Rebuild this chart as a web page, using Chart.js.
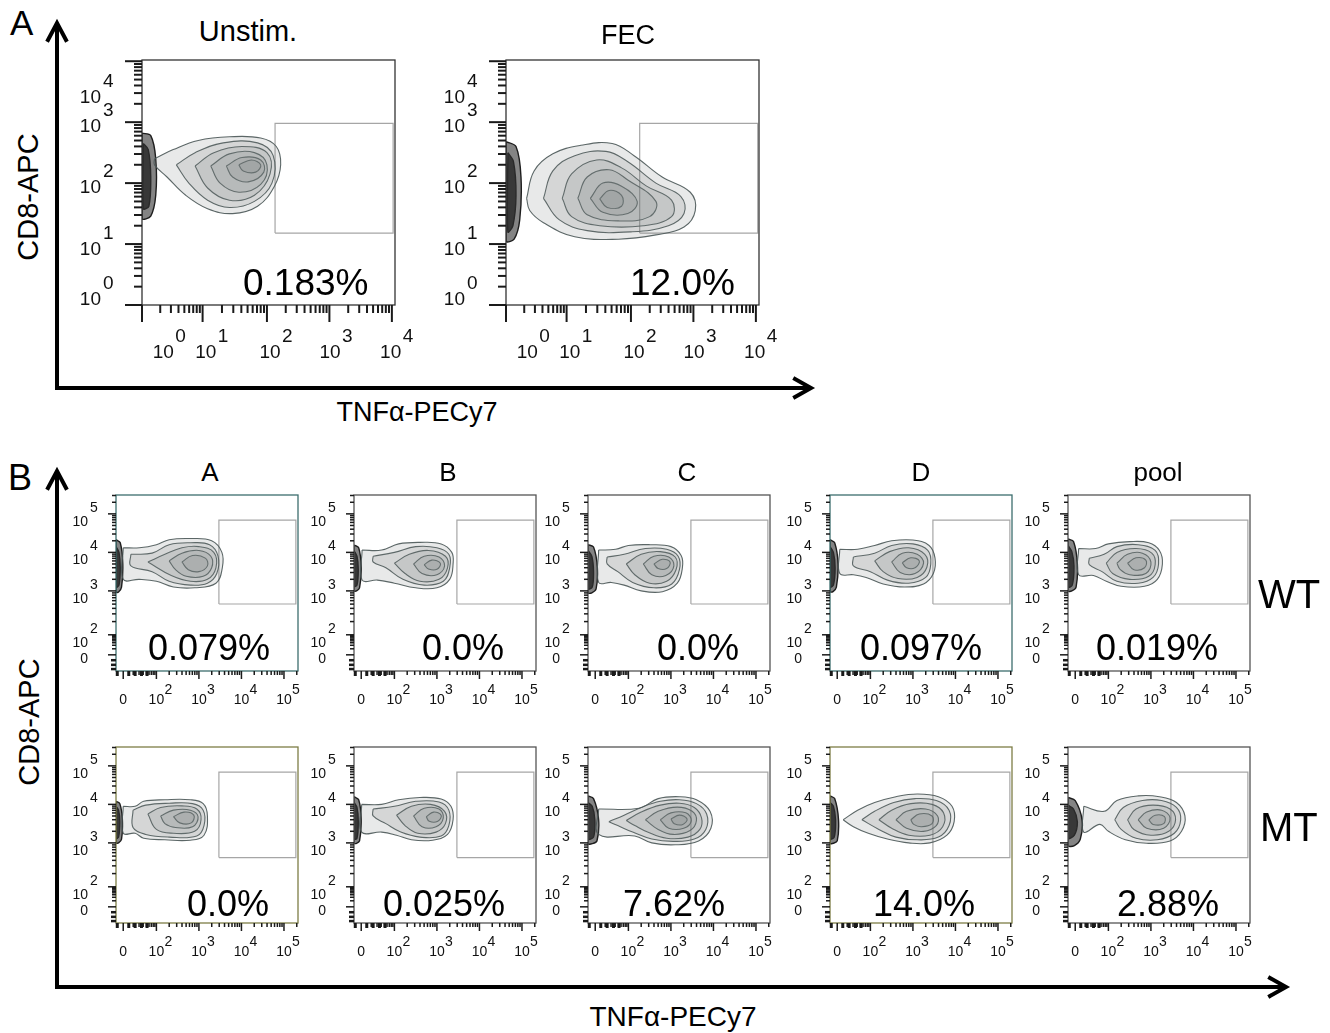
<!DOCTYPE html>
<html>
<head>
<meta charset="utf-8">
<script src="https://cdn.jsdelivr.net/npm/chart.js"></script>
<style>
body { margin: 0; background: #fff; }
#fig { position: relative; width: 1330px; height: 1033px; overflow: hidden; font-family: Arial, "Liberation Sans", sans-serif; color: #000; }
#fig canvas { position: absolute; }
.t { position: absolute; white-space: nowrap; line-height: 1; }
</style>
</head>
<body>
<div id="fig">
<svg width="1330" height="1033" style="position:absolute;left:0;top:0">
  <g stroke="#000" stroke-width="4" fill="none" stroke-linecap="square">
    <polyline points="57,26 57,388 808,388"/>
    <polyline points="48,40 57,23 66,40"/>
    <polyline points="795,379 811,388 795,397"/>
    <polyline points="57,474 57,987 1284,987"/>
    <polyline points="48,488 57,471 66,488"/>
    <polyline points="1270,978 1286,987 1270,996"/>
  </g>
</svg>
</div>
<script>
// ---- text ----
const panelATitles = ['Unstim.', 'FEC'];
const panelAPercent = ['0.183%', '12.0%'];
const colTitles = ['A', 'B', 'C', 'D', 'pool'];
const rowTitles = ['WT', 'MT'];
const pctWT = ['0.079%', '0.0%', '0.0%', '0.097%', '0.019%'];
const pctMT = ['0.0%', '0.025%', '7.62%', '14.0%', '2.88%'];

// ---- axis ticks (display units: one unit = one decade) ----
const oldMajorX = [0, 0.97, 2, 3, 4];
const oldMajorY = [0, 1, 2, 3, 4];
const oldLabelX = [0.34, 1.02, 2.05, 3.01, 3.98];
const oldLabelY = [0, 0.82, 1.84, 2.84, 3.31];
const oldExp = ['0', '1', '2', '3', '4'];
const bioMajorX = [1.22, 2, 3, 4, 5];
const bioMajorY = [1.34, 1.86, 3, 4, 5];
const bioExp = ['', '2', '3', '4', '5'];
const bioLowX = [1.08, 1.35, 1.5, 1.65, 1.78];
const bioLowY = [0.97, 1.08, 1.2];

// ---- gates [x0, x1, y0, y1] ----
const gateUnstim = [2.13, 4.02, 1.18, 2.98];
const gateFEC = [2.14, 4.03, 1.18, 2.98];
const gateWT = [3.47, 5.28, 2.66, 4.84];
const gateMT = [3.47, 5.28, 2.62, 4.84];

// ---- contours, flat [x, y, x, y, ...] ----
const unstimCells = [
  [0,2.82, 0.14,2.78, 0.22,2.4, 0.22,1.8, 0.14,1.46, 0,1.42],
  [0.02,2.65, 0.1,2.55, 0.14,2.1, 0.11,1.62, 0.02,1.58]
];
const unstimRings = [
  [0.2,2.4, 0.5,2.55, 0.9,2.7, 1.4,2.76, 1.9,2.74, 2.15,2.6, 2.22,2.3, 2.12,1.95, 1.85,1.62, 1.45,1.5, 1.05,1.58, 0.7,1.8, 0.4,2.1, 0.2,2.3],
  [0.55,2.3, 0.85,2.5, 1.3,2.66, 1.85,2.66, 2.1,2.45, 2.08,2.0, 1.8,1.7, 1.4,1.6, 1.05,1.72, 0.75,2.0],
  [0.85,2.28, 1.15,2.5, 1.6,2.6, 2.0,2.5, 2.05,2.15, 1.8,1.8, 1.4,1.72, 1.05,1.92],
  [1.1,2.28, 1.4,2.48, 1.8,2.5, 2.0,2.3, 1.9,1.98, 1.55,1.85, 1.25,2.0],
  [1.35,2.28, 1.6,2.42, 1.9,2.38, 1.95,2.18, 1.7,2.02, 1.45,2.1],
  [1.55,2.3, 1.75,2.38, 1.9,2.3, 1.82,2.18, 1.62,2.2]
];
const fecCells = [
  [0,2.68, 0.16,2.6, 0.24,2.1, 0.22,1.4, 0.13,1.08, 0,1.05],
  [0.03,2.5, 0.12,2.35, 0.16,1.8, 0.11,1.3, 0.03,1.2]
];
const fecRings = [
  [0.33,1.75, 0.45,2.2, 0.75,2.48, 1.2,2.62, 1.7,2.65, 2.05,2.45, 2.5,2.1, 2.95,1.85, 3.03,1.55, 2.85,1.28, 2.4,1.15, 1.8,1.08, 1.1,1.12, 0.6,1.35, 0.38,1.55],
  [0.6,1.75, 0.75,2.2, 1.1,2.45, 1.6,2.52, 1.95,2.35, 2.4,2.0, 2.8,1.78, 2.85,1.5, 2.6,1.3, 2.0,1.2, 1.3,1.22, 0.85,1.4],
  [0.9,1.75, 1.05,2.15, 1.45,2.38, 1.85,2.25, 2.25,1.95, 2.65,1.72, 2.65,1.45, 2.2,1.3, 1.5,1.3, 1.05,1.45],
  [1.15,1.75, 1.3,2.1, 1.65,2.22, 1.95,2.05, 2.4,1.7, 2.3,1.45, 1.8,1.38, 1.3,1.48],
  [1.35,1.75, 1.55,2.0, 1.85,1.95, 2.1,1.7, 1.95,1.5, 1.55,1.52],
  [1.5,1.74, 1.65,1.88, 1.85,1.8, 1.85,1.62, 1.62,1.6]
];

const wtACells = [[1.05,4.33, 1.15,4.25, 1.21,3.7, 1.18,3.1, 1.11,2.97, 1.05,2.97], [1.05,4.15, 1.12,4.0, 1.15,3.6, 1.12,3.15, 1.05,3.1]];
const wtARings = [
  [1.22,4.12, 1.6,4.12, 2.0,4.2, 2.3,4.33, 2.8,4.36, 3.3,4.3, 3.54,4.0, 3.55,3.6, 3.4,3.2, 2.9,3.08, 2.4,3.1, 2.0,3.25, 1.6,3.3, 1.22,3.3],
  [1.4,3.95, 1.9,3.98, 2.3,4.2, 2.8,4.25, 3.25,4.2, 3.45,3.9, 3.42,3.45, 3.2,3.2, 2.8,3.15, 2.3,3.25, 1.9,3.5, 1.4,3.65],
  [1.8,3.75, 2.2,3.95, 2.6,4.12, 3.0,4.15, 3.35,4.0, 3.4,3.6, 3.2,3.3, 2.8,3.25, 2.35,3.4],
  [2.3,3.78, 2.6,3.98, 3.0,4.05, 3.28,3.9, 3.3,3.6, 3.1,3.38, 2.7,3.38, 2.45,3.55],
  [2.6,3.75, 2.85,3.92, 3.15,3.85, 3.2,3.65, 3.0,3.5, 2.75,3.55]
];
const wtBCells = [[1.05,4.19, 1.16,4.12, 1.22,3.6, 1.18,3.08, 1.11,3.0, 1.05,3.0], [1.05,4.05, 1.12,3.9, 1.15,3.55, 1.12,3.15, 1.05,3.12]];
const wtBRings = [
  [1.24,4.06, 1.7,4.06, 2.1,4.22, 2.6,4.26, 3.1,4.22, 3.35,4.0, 3.38,3.7, 3.3,3.3, 3.0,3.08, 2.5,3.08, 2.0,3.2, 1.6,3.28, 1.24,3.28],
  [1.5,3.9, 2.0,4.0, 2.5,4.15, 3.0,4.12, 3.28,3.95, 3.3,3.6, 3.15,3.25, 2.7,3.15, 2.2,3.3, 1.8,3.6, 1.5,3.75],
  [2.0,3.72, 2.35,3.95, 2.8,4.05, 3.2,3.9, 3.25,3.6, 3.05,3.3, 2.6,3.25, 2.25,3.45],
  [2.45,3.7, 2.7,3.9, 3.05,3.88, 3.18,3.65, 3.0,3.42, 2.65,3.45],
  [2.7,3.68, 2.88,3.8, 3.08,3.72, 3.0,3.56, 2.8,3.57]
];
const wtCCells = [[1.05,4.2, 1.18,4.14, 1.27,3.6, 1.24,3.05, 1.14,2.95, 1.05,2.95], [1.05,4.05, 1.14,3.9, 1.18,3.5, 1.15,3.1, 1.05,3.05]];
const wtCRings = [
  [1.3,4.06, 1.7,4.08, 2.0,4.18, 2.5,4.2, 3.0,4.15, 3.24,3.92, 3.27,3.6, 3.15,3.2, 2.8,2.98, 2.3,3.0, 1.9,3.15, 1.6,3.22, 1.3,3.22],
  [1.5,3.88, 1.9,3.95, 2.4,4.1, 2.9,4.08, 3.17,3.9, 3.2,3.55, 3.02,3.18, 2.6,3.08, 2.1,3.22, 1.75,3.5, 1.5,3.7],
  [1.95,3.7, 2.3,3.95, 2.75,4.02, 3.1,3.88, 3.12,3.55, 2.9,3.25, 2.5,3.2, 2.15,3.42],
  [2.35,3.7, 2.6,3.9, 2.95,3.88, 3.07,3.65, 2.88,3.4, 2.55,3.42],
  [2.6,3.7, 2.8,3.82, 2.98,3.75, 2.9,3.58, 2.7,3.58]
];
const wtDCells = [[1.05,4.33, 1.16,4.25, 1.24,3.7, 1.2,3.1, 1.12,2.98, 1.05,2.98], [1.05,4.15, 1.13,4.0, 1.17,3.6, 1.13,3.15, 1.05,3.1]];
const wtDRings = [
  [1.28,4.08, 1.7,4.08, 2.1,4.18, 2.5,4.3, 3.0,4.32, 3.38,4.18, 3.52,3.85, 3.48,3.45, 3.25,3.18, 2.8,3.1, 2.3,3.18, 1.9,3.35, 1.6,3.42, 1.28,3.45],
  [1.6,3.88, 2.1,3.98, 2.5,4.18, 3.0,4.22, 3.35,4.05, 3.42,3.7, 3.3,3.35, 2.9,3.2, 2.4,3.28, 2.0,3.5, 1.6,3.65],
  [2.1,3.78, 2.45,4.02, 2.9,4.12, 3.28,3.95, 3.33,3.62, 3.1,3.35, 2.65,3.32, 2.3,3.5],
  [2.5,3.75, 2.75,3.98, 3.1,3.95, 3.25,3.72, 3.05,3.45, 2.7,3.48],
  [2.75,3.73, 2.95,3.86, 3.15,3.78, 3.05,3.6, 2.85,3.6]
];
const wtPoolCells = [[1.05,4.35, 1.18,4.28, 1.27,3.7, 1.24,3.1, 1.14,3.0, 1.05,3.0], [1.05,4.18, 1.14,4.02, 1.19,3.65, 1.15,3.15, 1.05,3.1]];
const wtPoolRings = [
  [1.3,4.1, 1.7,4.1, 2.0,4.22, 2.5,4.28, 2.95,4.25, 3.2,4.05, 3.27,3.7, 3.15,3.3, 2.85,3.12, 2.3,3.12, 1.95,3.25, 1.65,3.4, 1.3,3.42],
  [1.55,3.85, 1.9,3.95, 2.2,4.15, 2.7,4.2, 3.1,4.05, 3.18,3.7, 3.05,3.35, 2.7,3.2, 2.2,3.25, 1.85,3.5, 1.55,3.68],
  [1.95,3.72, 2.2,4.0, 2.65,4.1, 3.02,3.98, 3.1,3.68, 2.95,3.38, 2.5,3.3, 2.1,3.45],
  [2.2,3.72, 2.45,3.95, 2.8,3.98, 3.0,3.75, 2.88,3.45, 2.5,3.42, 2.28,3.55],
  [2.45,3.72, 2.65,3.86, 2.88,3.8, 2.85,3.6, 2.6,3.55]
];

const mtACells = [[1.05,4.08, 1.14,4.02, 1.2,3.6, 1.18,3.1, 1.11,3.0, 1.05,3.0], [1.05,3.95, 1.11,3.85, 1.14,3.55, 1.11,3.15, 1.05,3.12]];
const mtARings = [
  [1.22,3.95, 1.5,3.95, 1.7,4.08, 2.2,4.12, 2.8,4.12, 3.1,4.02, 3.2,3.7, 3.12,3.2, 2.8,3.07, 2.2,3.08, 1.7,3.12, 1.5,3.25, 1.22,3.25],
  [1.45,3.85, 1.75,3.98, 2.3,4.03, 2.85,4.02, 3.1,3.85, 3.12,3.45, 2.95,3.18, 2.3,3.15, 1.75,3.22, 1.45,3.4],
  [1.8,3.75, 2.1,3.92, 2.6,3.96, 2.95,3.88, 3.05,3.6, 2.9,3.3, 2.4,3.25, 2.0,3.35],
  [2.1,3.7, 2.4,3.85, 2.8,3.85, 2.98,3.68, 2.85,3.42, 2.45,3.4, 2.2,3.5],
  [2.4,3.68, 2.65,3.8, 2.88,3.72, 2.82,3.52, 2.55,3.52]
];
const mtBCells = [[1.05,4.2, 1.16,4.12, 1.22,3.6, 1.18,3.05, 1.11,2.99, 1.05,2.99], [1.05,4.05, 1.12,3.92, 1.15,3.55, 1.12,3.12, 1.05,3.1]];
const mtBRings = [
  [1.23,4.0, 1.7,4.0, 2.1,4.12, 2.6,4.18, 3.1,4.14, 3.33,3.95, 3.38,3.6, 3.25,3.22, 2.9,3.07, 2.4,3.08, 2.05,3.2, 1.7,3.28, 1.23,3.28],
  [1.5,3.88, 2.0,3.95, 2.5,4.08, 3.05,4.06, 3.28,3.85, 3.28,3.45, 3.1,3.18, 2.6,3.15, 2.15,3.28, 1.8,3.5, 1.5,3.7],
  [2.05,3.72, 2.4,3.95, 2.85,4.0, 3.18,3.82, 3.2,3.5, 2.98,3.28, 2.55,3.25, 2.25,3.45],
  [2.45,3.7, 2.7,3.9, 3.05,3.88, 3.15,3.65, 2.98,3.42, 2.65,3.42],
  [2.75,3.68, 2.92,3.8, 3.1,3.72, 3.02,3.56, 2.82,3.56]
];
const mtCCells = [[1.05,4.22, 1.18,4.15, 1.3,3.6, 1.26,3.05, 1.15,2.98, 1.05,2.98], [1.05,4.05, 1.15,3.95, 1.21,3.6, 1.18,3.15, 1.05,3.1]];
const mtCRings = [
  [1.3,3.88, 2.25,3.9, 2.7,4.15, 3.2,4.2, 3.6,4.12, 3.92,3.82, 3.94,3.38, 3.65,3.05, 3.1,2.95, 2.55,3.0, 2.15,3.18, 1.3,3.22],
  [1.54,3.55, 1.9,3.72, 2.3,3.92, 2.75,4.08, 3.2,4.12, 3.6,4.02, 3.84,3.75, 3.82,3.35, 3.55,3.1, 3.05,3.04, 2.55,3.1, 2.1,3.28, 1.75,3.45],
  [1.95,3.58, 2.3,3.8, 2.75,3.98, 3.2,4.03, 3.55,3.92, 3.72,3.65, 3.68,3.35, 3.4,3.15, 2.9,3.12, 2.45,3.28, 2.15,3.45],
  [2.4,3.6, 2.7,3.82, 3.15,3.93, 3.5,3.82, 3.6,3.58, 3.45,3.32, 3.05,3.22, 2.7,3.35],
  [2.75,3.6, 3.0,3.78, 3.35,3.78, 3.48,3.58, 3.3,3.38, 2.95,3.38],
  [3.0,3.62, 3.2,3.72, 3.38,3.62, 3.28,3.48, 3.08,3.5]
];
const mtDCells = [[1.05,4.22, 1.16,4.15, 1.25,3.6, 1.22,3.05, 1.13,2.99, 1.05,2.99], [1.05,4.05, 1.13,3.95, 1.18,3.6, 1.15,3.15, 1.05,3.1]];
const mtDRings = [
  [1.36,3.6, 1.7,3.85, 2.1,4.05, 2.6,4.2, 3.1,4.27, 3.6,4.2, 3.92,3.95, 3.97,3.55, 3.8,3.2, 3.4,3.0, 2.9,3.0, 2.4,3.1, 1.95,3.25, 1.6,3.42],
  [1.8,3.6, 2.1,3.82, 2.55,4.05, 3.05,4.15, 3.55,4.1, 3.85,3.85, 3.85,3.45, 3.6,3.15, 3.1,3.08, 2.6,3.15, 2.2,3.35],
  [2.2,3.6, 2.5,3.85, 2.95,4.02, 3.45,4.0, 3.72,3.78, 3.7,3.42, 3.4,3.2, 2.9,3.2, 2.5,3.38],
  [2.6,3.6, 2.85,3.82, 3.3,3.88, 3.58,3.7, 3.55,3.45, 3.25,3.3, 2.85,3.38],
  [2.95,3.6, 3.15,3.75, 3.45,3.7, 3.45,3.5, 3.2,3.42, 3.02,3.48]
];
const mtPoolCells = [[1.05,4.18, 1.22,4.1, 1.38,3.6, 1.34,3.1, 1.2,2.93, 1.05,2.93], [1.05,3.98, 1.18,3.88, 1.27,3.55, 1.2,3.2, 1.05,3.12]];
const mtPoolRings = [
  [1.42,3.95, 1.9,3.82, 2.2,4.1, 2.7,4.22, 3.2,4.2, 3.6,4.05, 3.8,3.7, 3.72,3.3, 3.45,3.05, 2.9,2.99, 2.4,3.08, 2.0,3.3, 1.8,3.48, 1.42,3.28],
  [2.15,3.6, 2.35,3.92, 2.8,4.1, 3.25,4.1, 3.6,3.92, 3.7,3.6, 3.55,3.25, 3.15,3.08, 2.65,3.12, 2.3,3.35],
  [2.45,3.6, 2.65,3.88, 3.05,3.98, 3.45,3.88, 3.58,3.6, 3.42,3.3, 3.0,3.2, 2.6,3.35],
  [2.7,3.6, 2.9,3.8, 3.25,3.85, 3.45,3.65, 3.3,3.38, 2.9,3.38],
  [2.95,3.6, 3.1,3.72, 3.32,3.68, 3.3,3.5, 3.05,3.48]
];

// ---- helpers ----
const fig = document.getElementById('fig');

function loop(flat) {
  const out = [];
  for (let i = 0; i < flat.length; i += 2) out.push({ x: flat[i], y: flat[i + 1] });
  out.push({ x: flat[0], y: flat[1] });
  return out;
}
function rect(g) {
  return [{ x: g[0], y: g[2] }, { x: g[1], y: g[2] }, { x: g[1], y: g[3] }, { x: g[0], y: g[3] }, { x: g[0], y: g[2] }];
}
function minorOf(major) {
  const out = [];
  for (let i = 0; i < major.length - 1; i++) {
    const a = major[i], b = major[i + 1];
    for (let k = 2; k < 10; k++) out.push(a + (b - a) * Math.log10(k));
  }
  const last = major[major.length - 1];
  for (let k = 2; k < 10; k++) out.push(last + Math.log10(k));
  return out;
}

const flowAxes = {
  id: 'flowAxes',
  afterDraw(chart, args, o) {
    const ctx = chart.ctx, a = chart.chartArea;
    const sx = chart.scales.x, sy = chart.scales.y;
    const inX = v => v >= sx.min && v <= sx.max;
    const inY = v => v >= sy.min && v <= sy.max;
    const seg = (x0, y0, x1, y1, w) => {
      ctx.lineWidth = w; ctx.beginPath(); ctx.moveTo(x0, y0); ctx.lineTo(x1, y1); ctx.stroke();
    };
    ctx.save();
    ctx.strokeStyle = o.frame;
    ctx.lineWidth = 1.3;
    ctx.strokeRect(a.left, a.top, a.right - a.left, a.bottom - a.top);

    ctx.strokeStyle = '#1a1a1a';
    minorOf(o.x.major).filter(inX).forEach(v => {
      const p = sx.getPixelForValue(v); seg(p, a.bottom, p, a.bottom + o.minorLen, o.tw);
    });
    (o.x.low || []).forEach(v => {
      const p = sx.getPixelForValue(v); seg(p, a.bottom, p, a.bottom + o.minorLen + 1, 3);
    });
    o.x.major.forEach(v => {
      const p = sx.getPixelForValue(v); seg(p, a.bottom, p, a.bottom + o.majorLen, o.tw);
    });
    minorOf(o.y.major).filter(inY).forEach(v => {
      const p = sy.getPixelForValue(v); seg(a.left, p, a.left - o.minorLen, p, o.tw);
    });
    (o.y.low || []).forEach(v => {
      const p = sy.getPixelForValue(v); seg(a.left, p, a.left - o.minorLen - 1, p, 2.5);
    });
    o.y.major.forEach(v => {
      const p = sy.getPixelForValue(v); seg(a.left, p, a.left - o.majorLen, p, o.tw);
    });

    ctx.fillStyle = '#111';
    ctx.font = o.labelFont;
    ctx.textBaseline = 'alphabetic';
    o.x.at.forEach((v, i) => {
      const p = sx.getPixelForValue(v), e = o.x.exp[i];
      ctx.textAlign = 'center';
      ctx.fillText(e === '' ? '0' : '10', p, a.bottom + o.x.dy);
      if (e !== '') { ctx.textAlign = 'left'; ctx.fillText(e, p + o.x.ex, a.bottom + o.x.edy); }
    });
    o.y.at.forEach((v, i) => {
      const p = sy.getPixelForValue(v), e = o.y.exp[i];
      ctx.textAlign = 'right';
      if (e === '') { ctx.fillText('0', a.left + o.y.dx, p + o.y.zdy); return; }
      ctx.fillText('10', a.left + o.y.dx, p + o.y.dy);
      ctx.textAlign = 'left';
      ctx.fillText(e, a.left + o.y.dx + o.y.ex, p + o.y.edy);
    });
    ctx.restore();
  }
};

function makePanel(p) {
  const c = document.createElement('canvas');
  const W = p.w + p.pad.left + p.pad.right, H = p.h + p.pad.top + p.pad.bottom;
  c.width = W; c.height = H;
  c.style.width = W + 'px'; c.style.height = H + 'px';
  c.style.left = (p.x - p.pad.left) + 'px';
  c.style.top = (p.y - p.pad.top) + 'px';
  fig.appendChild(c);

  const datasets = [];
  p.rings.forEach(r => datasets.push({
    data: loop(r), tension: 0.4, borderColor: 'rgba(75,88,88,0.9)', borderWidth: 1.1,
    backgroundColor: 'rgba(110,118,118,0.16)', fill: 'shape', pointRadius: 0
  }));
  p.cells.forEach((r, i) => datasets.push({
    data: loop(r), tension: 0.3, borderColor: '#1e1e1e', borderWidth: 1.4,
    backgroundColor: i ? 'rgba(0,0,0,0.75)' : 'rgba(50,50,50,0.6)', fill: 'shape', pointRadius: 0
  }));
  datasets.push({
    data: rect(p.gate), tension: 0, borderColor: '#a6a6a6', borderWidth: 1.2, fill: false, pointRadius: 0
  });

  new Chart(c, {
    type: 'line',
    data: { datasets },
    options: {
      responsive: false, animation: false, events: [],
      layout: { padding: p.pad },
      scales: {
        x: { type: 'linear', min: p.xr[0], max: p.xr[1], display: false },
        y: { type: 'linear', min: p.yr[0], max: p.yr[1], display: false }
      },
      plugins: { legend: { display: false }, tooltip: { enabled: false }, flowAxes: p.axes }
    },
    plugins: [flowAxes]
  });
}

function txt(s, x, base, size, align) {
  const d = document.createElement('div');
  d.className = 't';
  d.textContent = s;
  d.style.fontSize = size + 'px';
  d.style.left = x + 'px';
  d.style.top = (base - 0.847 * size) + 'px';
  if (align === 'center') d.style.transform = 'translateX(-50%)';
  fig.appendChild(d);
}
function vtxt(s, cx, cy, size) {
  const d = document.createElement('div');
  d.className = 't';
  d.textContent = s;
  d.style.fontSize = size + 'px';
  d.style.left = cx + 'px';
  d.style.top = cy + 'px';
  d.style.transform = 'translate(-50%,-50%) rotate(-90deg)';
  fig.appendChild(d);
}

// ---- panel A (two old-style plots) ----
const oldAxes = {
  frame: '#333', tw: 2, majorLen: 17, minorLen: 8, labelFont: '19px "Liberation Sans", Arial, sans-serif',
  x: { major: oldMajorX, at: oldLabelX, exp: oldExp, dy: 53, ex: 12, edy: 37 },
  y: { major: oldMajorY, at: oldLabelY, exp: oldExp, dx: -41, dy: 0, ex: 2, edy: -16, zdy: 0 }
};
const oldPad = { left: 76, right: 38, top: 10, bottom: 62 };
[[142, unstimCells, unstimRings, gateUnstim], [506, fecCells, fecRings, gateFEC]].forEach(([x, cells, rings, gate]) => {
  makePanel({ x, y: 60, w: 253, h: 245, pad: oldPad, xr: [0, 4.05], yr: [0, 4.02], cells, rings, gate, axes: oldAxes });
});

// ---- panel B (2 x 5 grid) ----
const colX = [116, 354, 588, 830, 1068];
const rowY = [495, 747];
const frames = [['#3c6e6e', '#555', '#555', '#3c6e6e', '#555'], ['#7d7d45', '#555', '#555', '#7d7d45', '#555']];
const bData = [
  [[wtACells, wtARings], [wtBCells, wtBRings], [wtCCells, wtCRings], [wtDCells, wtDRings], [wtPoolCells, wtPoolRings]],
  [[mtACells, mtARings], [mtBCells, mtBRings], [mtCCells, mtCRings], [mtDCells, mtDRings], [mtPoolCells, mtPoolRings]]
];
const bPad = { left: 54, right: 24, top: 8, bottom: 40 };
rowY.forEach((y, r) => colX.forEach((x, c) => {
  makePanel({
    x, y, w: 182, h: 176, pad: bPad, xr: [1.05, 5.33], yr: [0.92, 5.49],
    cells: bData[r][c][0], rings: bData[r][c][1], gate: r ? gateMT : gateWT,
    axes: {
      frame: frames[r][c], tw: 1.5, majorLen: 8, minorLen: 4, labelFont: '14px "Liberation Sans", Arial, sans-serif',
      x: { major: bioMajorX, low: bioLowX, at: bioMajorX, exp: bioExp, dy: 33, ex: 8, edy: 23 },
      y: { major: bioMajorY, low: bioLowY, at: bioMajorY, exp: bioExp, dx: -28, dy: 12, ex: 2, edy: -2, zdy: 8 }
    }
  });
}));

// ---- labels ----
txt('A', 10, 35, 35);
txt('B', 8, 490, 36);
txt(panelATitles[0], 248, 42, 29, 'center');
txt(panelATitles[1], 628, 45, 27, 'center');
txt(panelAPercent[0], 243, 295, 37);
txt(panelAPercent[1], 630, 295, 37);
vtxt('CD8-APC', 28, 197, 29);
txt('TNFα-PECy7', 417, 422, 27, 'center');

const colTitleX = [210, 448, 687, 921, 1158];
colTitles.forEach((s, i) => txt(s, colTitleX[i], 481, 26, 'center'));
txt(rowTitles[0], 1258, 608, 40);
txt(rowTitles[1], 1260, 841, 40);
const pctWTx = [148, 422, 657, 860, 1096];
const pctMTx = [187, 383, 623, 873, 1117];
pctWT.forEach((s, i) => txt(s, pctWTx[i], 660, 36));
pctMT.forEach((s, i) => txt(s, pctMTx[i], 916, 36));
vtxt('CD8-APC', 29, 722, 29);
txt('TNFα-PECy7', 673, 1027, 28, 'center');
</script>
</body>
</html>
